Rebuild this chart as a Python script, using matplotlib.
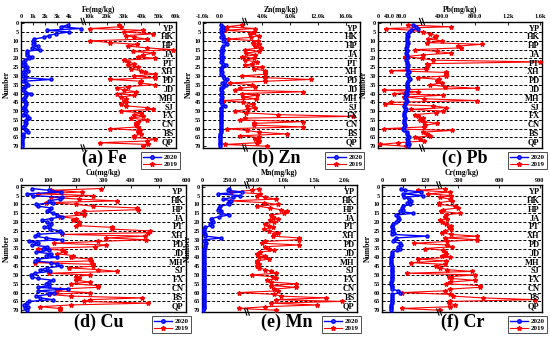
import numpy as np
import matplotlib
matplotlib.use("Agg")
import matplotlib.pyplot as plt
from matplotlib.lines import Line2D

plt.rcParams["font.family"] = ["Liberation Serif", "DejaVu Serif"]
plt.rcParams["font.weight"] = "bold"

BLUE, RED = "#0000FF", "#FF0000"

number = np.arange(1, 71)
sites = ["YP", "HK", "HP", "JA", "PT", "XH", "PD", "JD", "MH", "SJ", "FX", "CN", "BS", "QP"]

fe_2020 = [3900, 3300, 5000, 2200, 4000, 2900, 2300, 1900, 1100, 1000,
           1100, 1000, 1400, 900, 1600, 500, 500, 500, 900, 700,
           300, 200, 300, 200, 500, 300, 600, 200, 300, 200,
           300, 2500, 200, 400, 600, 300, 200, 200, 300, 800,
           400, 300, 200, 300, 300, 400, 300, 200, 300, 400,
           300, 200, 500, 700, 400, 300, 400, 300, 200, 300,
           400, 600, 200, 200, 200, 100, 100, 100, 100, 100]
fe_2019 = [27000, 28000, 10500, 41000, 30000, 47000, 31000, 36000, 43000, 10500,
           22000, 37500, 32000, 43000, 58000, 35000, 47000, 41000, 38000, 48000,
           30000, 32000, 36000, 32000, 38000, 34000, 40000, 42000, 48000, 36000,
           48000, 22000, 40000, 39000, 48000, 32000, 26000, 30000, 37000, 26000,
           36000, 28000, 31000, 30000, 31000, 28000, 31000, 43000, 47000, 28000,
           40000, 36000, 41000, 34000, 43000, 38000, 37000, 37000, 38000, 22000,
           39000, 38000, 40000, 36000, 36000, 48000, 43000, 16000, 44000, 41000]

zn_2020 = [100, 200, 50, 200, 100, 150, 200, 100, 250, 200,
           350, 450, 200, 150, 200, 100, 150, 100, 200, 100,
           150, 100, 200, 350, 150, 100, 100, 150, 100, 200,
           250, 400, 300, 150, 350, 200, 100, 100, 150, 100,
           100, 150, 100, 100, 100, 150, 300, 100, 100, 100,
           50, 50, 100, 50, 50, 50, 50, 50, 50, 50,
           50, 50, 30, 30, 30, 30, 30, 30, 30, 30]
zn_2019 = [1300, 400, 3000, 300, 2800, 2200, 3500, 2400, 500, 3300,
           2600, 3500, 3000, 3800, 1500, 3500, 1600, 3000, 1300, 2800,
           1500, 3200, 2500, 1500, 4000, 2800, 4300, 4300, 4300, 1300,
           4400, 11000, 4400, 600, 2500, 3000, 1200, 900, 9800, 1300,
           3200, 1400, 3100, 200, 1400, 2600, 1800, 3000, 2000, 900,
           1600, 6300, 17000, 1500, 1200, 9800, 2800, 2800, 9800, 400,
           1800, 3500, 7500, 1200, 3500, 3000, 3500, 3200, 300, 4700]

pb_2020 = [119, 131, 138, 112, 106, 100, 102, 100, 98, 100,
           102, 100, 98, 95, 100, 98, 95, 98, 100, 98,
           95, 98, 100, 102, 98, 100, 102, 105, 100, 102,
           105, 108, 102, 100, 98, 100, 102, 98, 95, 98,
           95, 92, 95, 98, 95, 92, 90, 92, 95, 92,
           90, 88, 90, 92, 90, 88, 90, 92, 88, 85,
           90, 98, 100, 102, 105, 100, 102, 100, 105, 102]
pb_2019 = [102, 500, 26, 115, 160, 250, 320, 310, 230, 400,
           210, 880, 590, 630, 125, 330, 500, 160, 91, 150,
           280, 1600, 210, 220, 215, 200, 44, 450, 450, 440,
           138, 360, 340, 390, 250, 430, 820, 21, 138, 56,
           410, 88, 180, 830, 44, 25, 280, 450, 112, 410,
           320, 125, 138, 160, 144, 180, 340, 190, 170, 19,
           520, 160, 210, 250, 125, 144, 170, 69, 6, 94]

cu_2020 = [40, 100, 145, 20, 45, 150, 140, 100, 115, 55,
           60, 110, 100, 95, 115, 130, 150, 110, 75, 95,
           110, 100, 85, 105, 140, 150, 60, 50, 90, 150,
           30, 60, 40, 95, 80, 100, 55, 110, 90, 130,
           60, 50, 110, 130, 145, 95, 70, 105, 50, 35,
           40, 60, 115, 100, 90, 100, 60, 170, 60, 120,
           100, 55, 70, 115, 30, 20, 10, 25, 15, 20]
cu_2019 = [290, 110, 220, 60, 260, 110, 210, 350, 90, 200,
           260, 420, 425, 230, 200, 230, 140, 200, 190, 210,
           210, 200, 330, 330, 470, 460, 150, 450, 310, 455,
           280, 120, 310, 270, 60, 150, 160, 130, 190, 180,
           250, 255, 50, 260, 260, 175, 280, 350, 100, 250,
           200, 210, 200, 250, 180, 280, 280, 140, 130, 250,
           100, 180, 440, 250, 230, 460, 180, 70, 140, 140]

mn_2020 = [240, 230, 360, 140, 340, 280, 190, 260, 230, 240,
           160, 150, 140, 170, 170, 240, 150, 80, 90, 100,
           70, 90, 25, 20, 20, 20, 25, 30, 170, 30,
           20, 35, 30, 25, 20, 20, 20, 20, 20, 15,
           15, 15, 15, 15, 15, 15, 15, 15, 15, 15,
           15, 15, 15, 15, 15, 15, 15, 15, 15, 15,
           15, 15, 15, 15, 15, 15, 15, 15, 15, 10]
mn_2019 = [590, 480, 260, 620, 560, 700, 880, 250, 680, 900,
           560, 780, 950, 1050, 1000, 800, 820, 900, 780, 850,
           700, 760, 820, 680, 760, 900, 850, 820, 1250, 1250,
           700, 650, 1250, 700, 760, 840, 620, 560, 700, 600,
           760, 560, 560, 600, 560, 600, 700, 800, 880, 480,
           820, 880, 720, 800, 1200, 800, 1200, 850, 900, 330,
           850, 950, 1700, 880, 1950, 800, 1550, 700, 330, 880]

cr_2020 = [52, 65, 110, 60, 115, 62, 75, 80, 70, 78,
           60, 55, 58, 50, 88, 40, 45, 48, 45, 40,
           30, 28, 28, 30, 28, 35, 28, 125, 40, 35,
           30, 50, 52, 45, 50, 42, 28, 27, 27, 26,
           26, 26, 26, 26, 28, 28, 28, 28, 28, 27,
           27, 27, 27, 26, 26, 27, 27, 28, 46, 50,
           28, 27, 27, 27, 27, 27, 26, 26, 26, 26]
cr_2019 = [205, 100, 240, 130, 250, 170, 240, 255, 160, 160,
           280, 300, 190, 175, 310, 210, 200, 215, 170, 180,
           210, 245, 230, 250, 200, 180, 245, 440, 200, 440,
           220, 90, 215, 255, 120, 190, 200, 210, 180, 240,
           100, 210, 80, 200, 150, 170, 220, 400, 70, 420,
           230, 250, 420, 240, 210, 460, 460, 240, 200, 55,
           240, 260, 480, 860, 240, 230, 280, 240, 55, 170]


def piecewise(kv, kf):
    kv = np.asarray(kv, float)
    kf = np.asarray(kf, float)
    s0 = (kf[1] - kf[0]) / (kv[1] - kv[0])
    s1 = (kf[-1] - kf[-2]) / (kv[-1] - kv[-2])

    def fwd(x):
        x = np.asarray(x, float)
        y = np.interp(x, kv, kf)
        y = np.where(x < kv[0], kf[0] + (x - kv[0]) * s0, y)
        return np.where(x > kv[-1], kf[-1] + (x - kv[-1]) * s1, y)

    def inv(y):
        y = np.asarray(y, float)
        x = np.interp(y, kf, kv)
        x = np.where(y < kf[0], kv[0] + (y - kf[0]) / s0, x)
        return np.where(y > kf[-1], kv[-1] + (y - kf[-1]) / s1, x)

    return fwd, inv


# (caption, axis label, 2020, 2019, break knots, break fractions, ticks, tick labels, rect px, caption x)
panels = [
    ("(a) Fe", "Fe(mg/kg)", fe_2020, fe_2019,
     [0, 5200, 6500, 60000], [0, 0.402, 0.4025, 1],
     [0, 1000, 2000, 3000, 4000, 10000, 20000, 30000, 40000, 50000, 60000],
     ["0", "1k", "2k", "3k", "4k", "10k", "20k", "30k", "40k", "50k", "60k"],
     [21, 21.5, 176, 148], 104),
    ("(b) Zn", "Zn(mg/kg)", zn_2020, zn_2019,
     [-1000, 1500, 18000], [0, 0.2675, 1],
     [-1000, 0, 4000, 8000, 12000, 16000],
     ["-1.0k", "0.0", "4.0k", "8.0k", "12.0k", "16.0k"],
     [203, 21.5, 360, 148], 276),
    ("(c) Pb", "Pb(mg/kg)", pb_2020, pb_2019,
     [0, 150, 1620], [0, 0.268, 1],
     [0, 40, 80, 400, 800, 1200, 1600],
     ["0", "40.0", "80.0", "400.0", "800.0", "1.2k", "1.6k"],
     [378, 21.5, 542, 148], 465),
    ("(d) Cu", "Cu(mg/kg)", cu_2020, cu_2019,
     [0, 600], [0, 1],
     [0, 100, 200, 300, 400, 500, 600],
     ["0", "100", "200", "300", "400", "500", "600"],
     [21, 185, 186, 312], 99),
    ("(e) Mn", "Mn(mg/kg)", mn_2020, mn_2019,
     [0, 400, 2200], [0, 0.29, 1],
     [0, 250, 500, 1000, 1500, 2000],
     ["0", "250.0", "500.0", "1.0k", "1.5k", "2.0k"],
     [202, 185, 357, 312], 287),
    ("(f) Cr", "Cr(mg/kg)", cr_2020, cr_2019,
     [0, 160, 915], [0, 0.357, 1],
     [0, 60, 120, 300, 600, 900],
     ["0", "60", "120", "300", "600", "900"],
     [382, 185, 542, 312], 463),
]

W, H = 550, 339
fig = plt.figure(figsize=(W / 100, H / 100), dpi=100)

for cap, xlab, v20, v19, kv, kf, ticks, tlabels, (x0, y0, x1, y1), cx in panels:
    ax = fig.add_axes([x0 / W, 1 - y1 / H, (x1 - x0) / W, (y1 - y0) / H])
    fwd, inv = piecewise(kv, kf)
    ax.set_xscale("function", functions=(fwd, inv))
    ax.set_xlim(kv[0], kv[-1])
    ax.set_ylim(71, -1)

    ax.plot(v19, number, color=RED, lw=0.8, marker="*", ms=3.2, mec=RED, mfc=RED, zorder=3)
    ax.plot(v20, number, color=BLUE, lw=1.0, marker="o", ms=2.2, mec=BLUE, mfc="#3050ff", zorder=4)

    for k in range(5, 70, 5):
        ax.axhline(k, color="black", lw=0.7, ls=(0, (3, 2)), zorder=2)
    for i, s in enumerate(sites):
        ax.text(0.985, 5 * i + 3, s, transform=ax.get_yaxis_transform(),
                ha="right", va="center", fontsize=6, fontweight="bold", zorder=5)

    ax.xaxis.tick_top()
    ax.xaxis.set_label_position("top")
    ax.set_xticks(ticks)
    ax.set_xticklabels(tlabels)
    ax.xaxis.set_minor_locator(matplotlib.ticker.NullLocator())
    ax.set_yticks(range(0, 71, 5))
    ax.tick_params(axis="both", direction="in", length=2, width=0.6, labelsize=4.5, pad=1.5)
    ax.set_xlabel(xlab, fontsize=5.5, fontweight="bold", labelpad=2)
    ax.set_ylabel("Number", fontsize=5.5, fontweight="bold", labelpad=1)
    for sp in ax.spines.values():
        sp.set_linewidth(1.0)

    # break marks on top and bottom frame
    if len(kv) > 2:
        fb = kf[1]
        for yy in (1.0, 0.0):
            for dx in (-0.008, 0.008):
                ax.plot([fb + dx - 0.007, fb + dx + 0.007], [yy + 0.025, yy - 0.025],
                        transform=ax.transAxes, color="black", lw=0.8, clip_on=False, zorder=6)

    handles = [Line2D([], [], color=BLUE, lw=1.0, marker="o", ms=2.5, mfc="#3050ff"),
               Line2D([], [], color=RED, lw=0.8, marker="*", ms=3.5)]
    leg = ax.legend(handles, ["2020", "2019"], loc="upper right", bbox_to_anchor=(1.05, -0.005),
                    fontsize=5, frameon=True, fancybox=False, edgecolor="black",
                    handlelength=2.6, borderpad=0.3, labelspacing=0.15, handletextpad=0.4)
    leg.get_frame().set_linewidth(0.6)

    fig.text(cx / W, 1 - (y1 + 10) / H, cap, ha="center", va="center",
             fontsize=13, fontweight="bold")

fig.savefig("out.png", dpi=100)
